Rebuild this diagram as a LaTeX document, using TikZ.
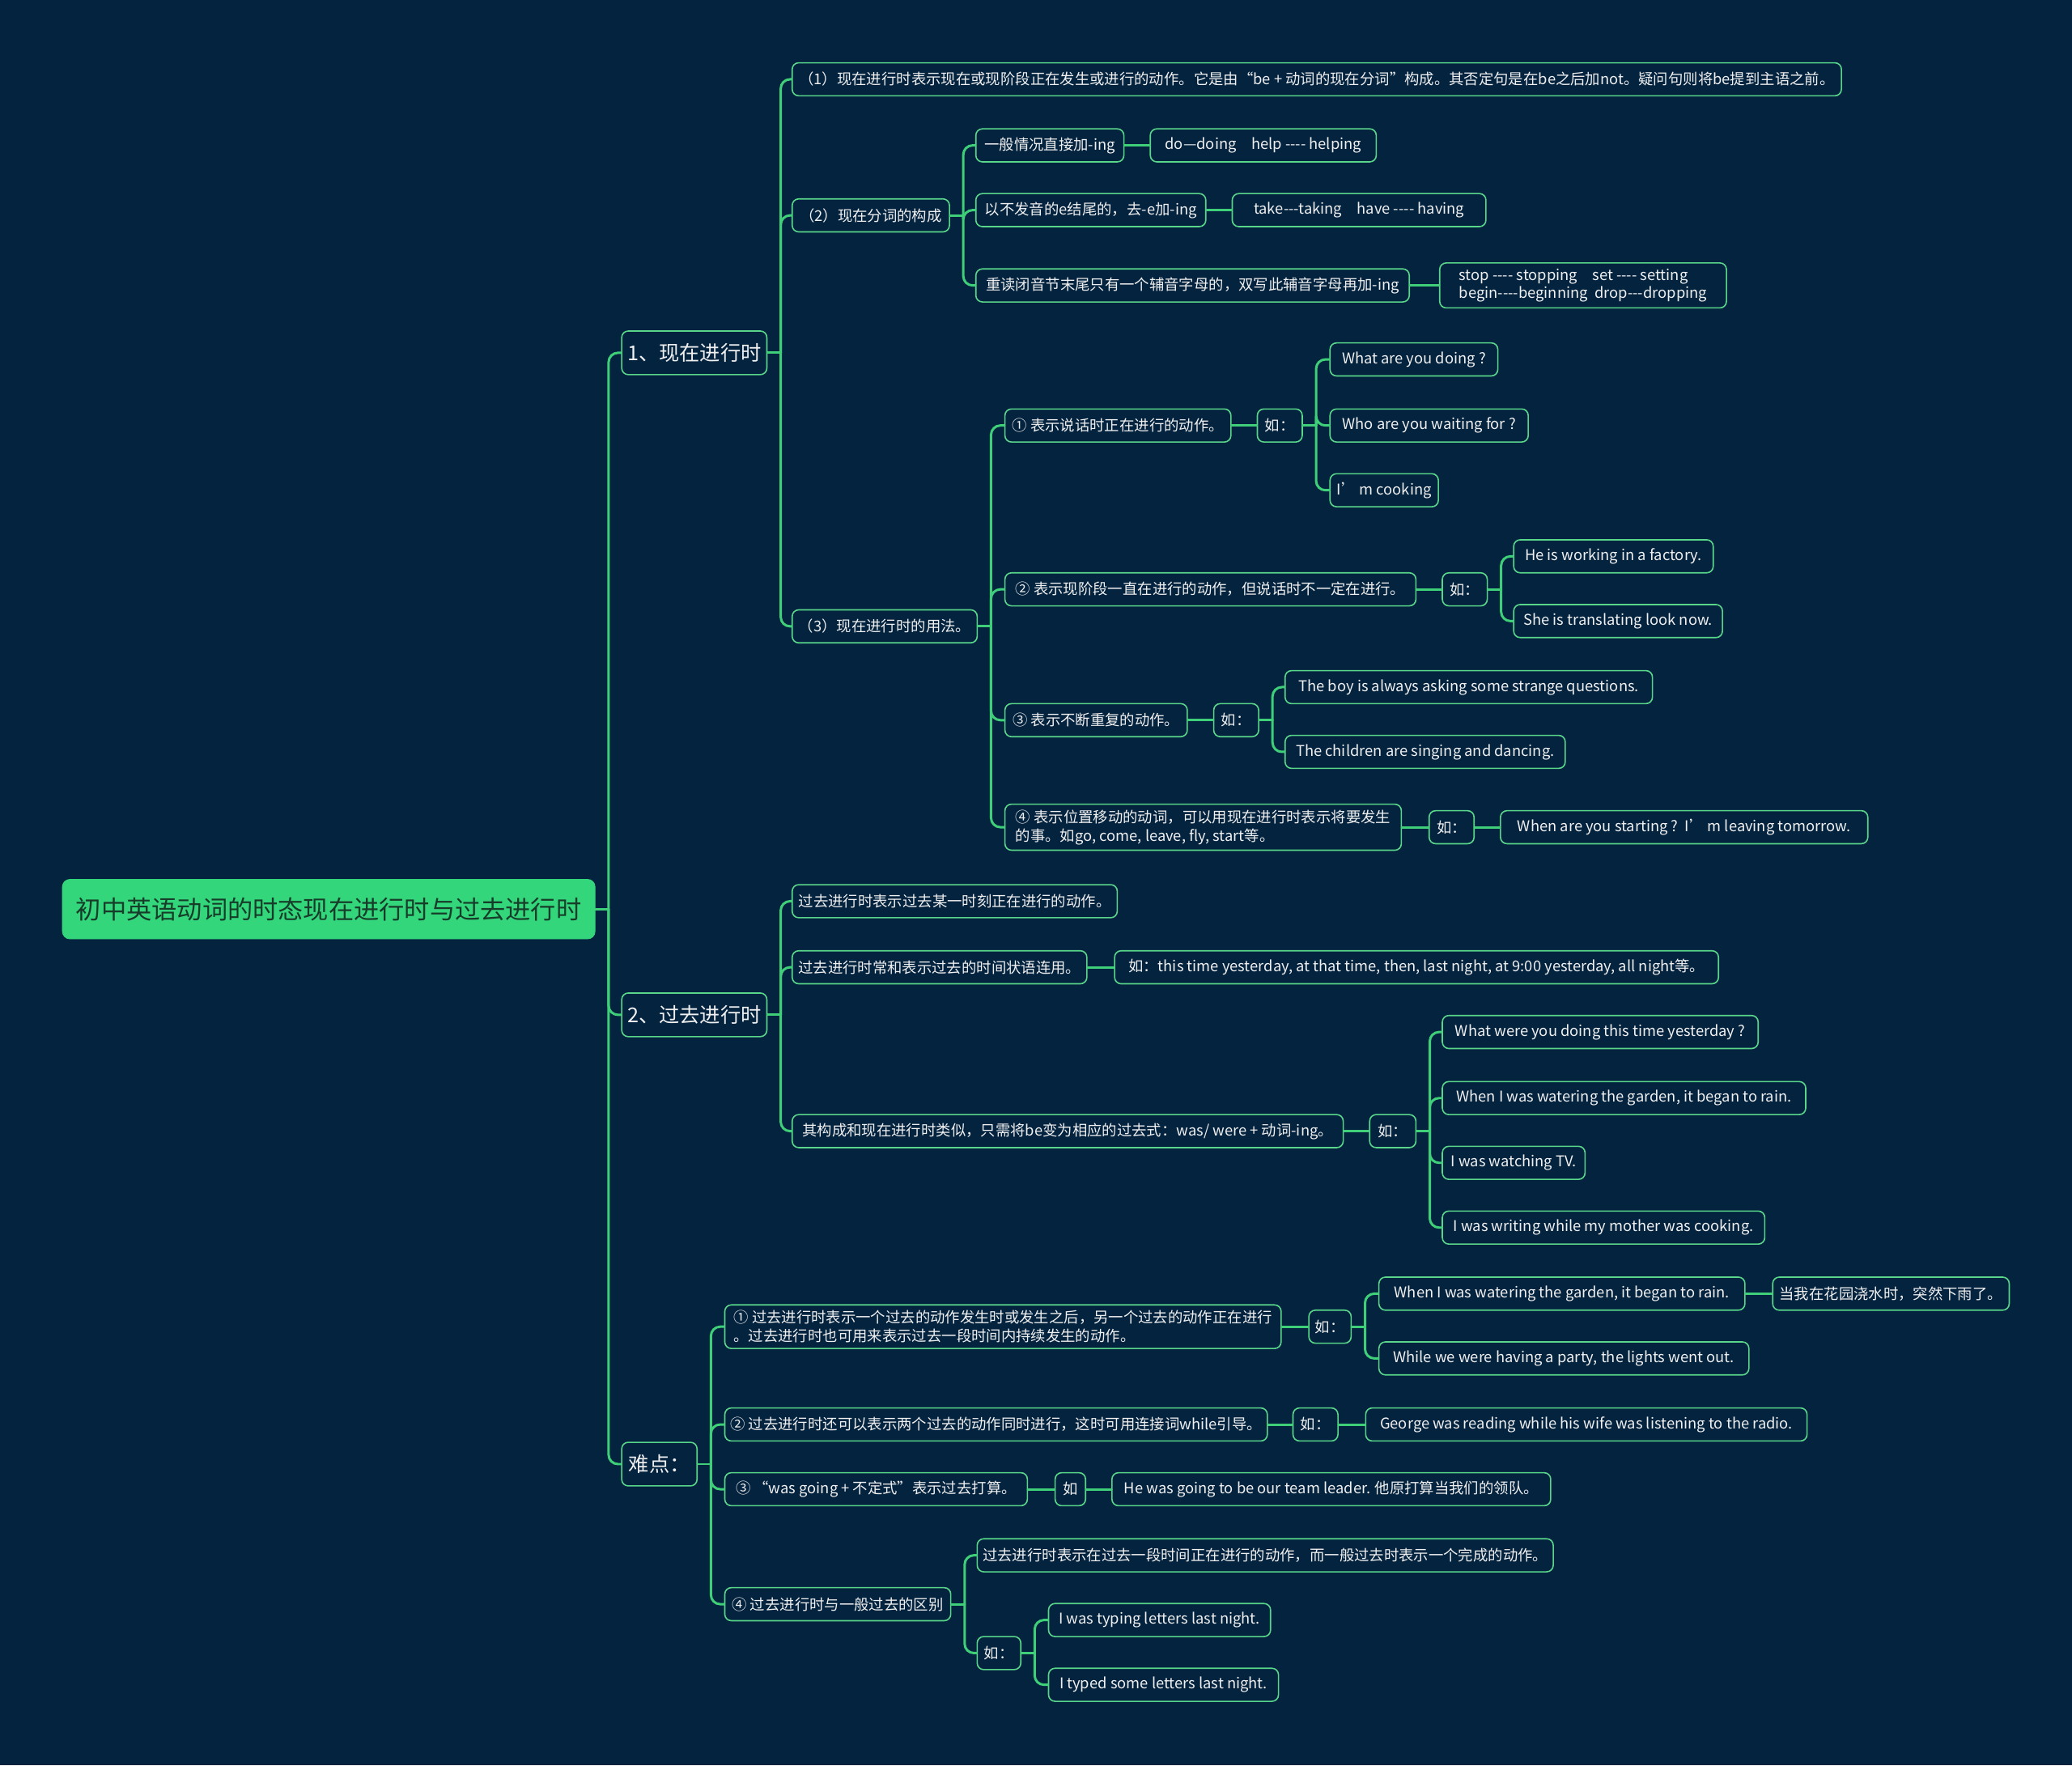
\documentclass[tikz,border=0pt]{standalone}
\usepackage{fontspec}
\setmainfont{Noto Sans CJK SC}[Ligatures=TeXOff]
\usepackage{xcolor}
\definecolor{bgnavy}{HTML}{03233F}
\definecolor{linegreen}{HTML}{3FCF78}
\definecolor{boxgreen}{HTML}{5AD68A}
\definecolor{rootgreen}{HTML}{33D67A}
\definecolor{roottext}{HTML}{173D2A}
\tikzset{
  leaf/.style={draw=boxgreen, line width=0.7pt, fill=bgnavy, rounded corners=3.5pt, text=white!94!black,
    font=\fontsize{8}{10}\selectfont, anchor=west, align=left, inner xsep=3pt, inner ysep=3pt, minimum height=25*0.025cm},
  topic/.style={leaf, font=\fontsize{11}{13}\selectfont, minimum height=33*0.025cm},
  link/.style={draw=linegreen, line width=1.3pt, rounded corners=5pt, line cap=round}
}

\begin{document}
\begin{tikzpicture}[x=0.025cm,y=-0.025cm]
\fill[bgnavy] (0,0) rectangle (1568,1336);
\node[draw=rootgreen, fill=rootgreen, rounded corners=4pt, text=roottext, anchor=west, minimum width=403*0.025cm, minimum height=45*0.025cm,
  font=\fontsize{13.6}{16}\selectfont] (root) at (47,688) {初中英语动词的时态现在进行时与过去进行时};
\foreach \n/\x/\y/\w/\t in {t1/470/267/108/{1、现在进行时}, t2/470/768/108/{2、过去进行时}, t3/470/1108/57/{难点：}}{
  \node[topic, minimum width=\w*0.025cm] (\n) at (\x,\y) {\t};}
\foreach \n/\x/\y/\w/\t in {
  a1/599/60/794/{（1）现在进行时表示现在或现阶段正在发生或进行的动作。它是由“be + 动词的现在分词”构成。其否定句是在be之后加not。疑问句则将be提到主语之前。},
  a2/599/163/119/{（2）现在分词的构成},
  a3/599/474/140/{（3）现在进行时的用法。},
  b1/738/110/112/{一般情况直接加-ing},
  b1e/870/110/171/{do—doing\quad help ---- helping},
  b2/738/159/174/{以不发音的e结尾的，去-e加-ing},
  b2e/932/159/192/{take---taking\quad have ---- having},
  b3/738/216/328/{重读闭音节末尾只有一个辅音字母的，双写此辅音字母再加-ing},
  b3e/1089/216/217/{stop ---- stopping\quad set ---- setting\\begin----beginning\ \ drop---dropping},
  c1/760/322/171/{① 表示说话时正在进行的动作。},
  c1r/951/322/34/{如：},
  c1a/1006/272/127/{What are you doing ?},
  c1b/1006/322/150/{Who are you waiting for ?},
  c1c/1006/371/82/{I’ m cooking},
  c2/760/446/311/{② 表示现阶段一直在进行的动作，但说话时不一定在进行。},
  c2r/1091/446/34/{如：},
  c2a/1145/421/151/{He is working in a factory.},
  c2b/1145/470/158/{She is translating look now.},
  c3/760/545/138/{③ 表示不断重复的动作。},
  c3r/918/545/34/{如：},
  c3a/972/520/278/{The boy is always asking some strange questions.},
  c3b/972/569/212/{The children are singing and dancing.},
  c4/760/626/300/{④ 表示位置移动的动词，可以用现在进行时表示将要发生\\的事。如go, come, leave, fly, start等。},
  c4r/1081/626/34/{如：},
  c4a/1135/626/278/{When are you starting ?\ \ I’ m leaving tomorrow.},
  d1/599/682/246/{过去进行时表示过去某一时刻正在进行的动作。},
  d2/599/732/223/{过去进行时常和表示过去的时间状语连用。},
  d2e/843/732/457/{如：this time yesterday, at that time, then, last night, at 9:00 yesterday, all night等。},
  d3/599/856/417/{其构成和现在进行时类似，只需将be变为相应的过去式：was/ were + 动词-ing。},
  d3r/1036/856/35/{如：},
  d3a/1091/781/239/{What were you doing this time yesterday ?},
  d3b/1091/831/275/{When I was watering the garden, it began to rain.},
  d3c/1091/880/108/{I was watching TV.},
  d3d/1091/929/244/{I was writing while my mother was cooking.},
  e1/548/1004/421/{① 过去进行时表示一个过去的动作发生时或发生之后，另一个过去的动作正在进行\\。过去进行时也可用来表示过去一段时间内持续发生的动作。},
  e1r/990/1004/32/{如：},
  e1a/1043/979/277/{When I was watering the garden, it began to rain.},
  e1ae/1341/979/179/{当我在花园浇水时，突然下雨了。},
  e1b/1043/1028/280/{While we were having a party, the lights went out.},
  e2/548/1078/410/{② 过去进行时还可以表示两个过去的动作同时进行，这时可用连接词while引导。},
  e2r/978/1078/34/{如：},
  e2a/1033/1078/334/{George was reading while his wife was listening to the radio.},
  e3/548/1127/229/{③ “was going + 不定式”表示过去打算。},
  e3r/798/1127/23/{如},
  e3a/841/1127/332/{He was going to be our team leader. 他原打算当我们的领队。},
  e4/548/1214/171/{④ 过去进行时与一般过去的区别},
  e4a/739/1177/435/{过去进行时表示在过去一段时间正在进行的动作，而一般过去时表示一个完成的动作。},
  e4r/739/1251/33/{如：},
  e4ra/793/1226/168/{I was typing letters last night.},
  e4rb/793/1275/174/{I typed some letters last night.}}{
  \node[leaf, minimum width=\w*0.025cm] (\n) at (\x,\y) {\t};}
% branching links
\foreach \p in {root,t1,a2,a3,c1r,c2r,c3r,t2,d3r,t3,e1r,e4,e4r}{
  \draw[link] (\p.east) -- ++(10,0);}
\foreach \p/\c in {root/t1, root/t2, root/t3, t1/a1, t1/a2, t1/a3, a2/b1, a2/b2, a2/b3,
  a3/c1, a3/c2, a3/c3, a3/c4, c1r/c1a, c1r/c1b, c1r/c1c, c2r/c2a, c2r/c2b, c3r/c3a, c3r/c3b,
  t2/d1, t2/d2, t2/d3, d3r/d3a, d3r/d3b, d3r/d3c, d3r/d3d, t3/e1, t3/e2, t3/e3, t3/e4,
  e1r/e1a, e1r/e1b, e4/e4a, e4/e4r, e4r/e4ra, e4r/e4rb}{
  \draw[link] (\p.east) ++(10,0) |- (\c.west);}
% straight links
\foreach \p/\c in {b1/b1e, b2/b2e, b3/b3e, c1/c1r, c2/c2r, c3/c3r, c4/c4r, c4r/c4a, d2/d2e, d3/d3r,
  e1/e1r, e1a/e1ae, e2/e2r, e2r/e2a, e3/e3r, e3r/e3a}{
  \draw[link] (\p.east) -- (\c.west);}
\end{tikzpicture}
\end{document}
